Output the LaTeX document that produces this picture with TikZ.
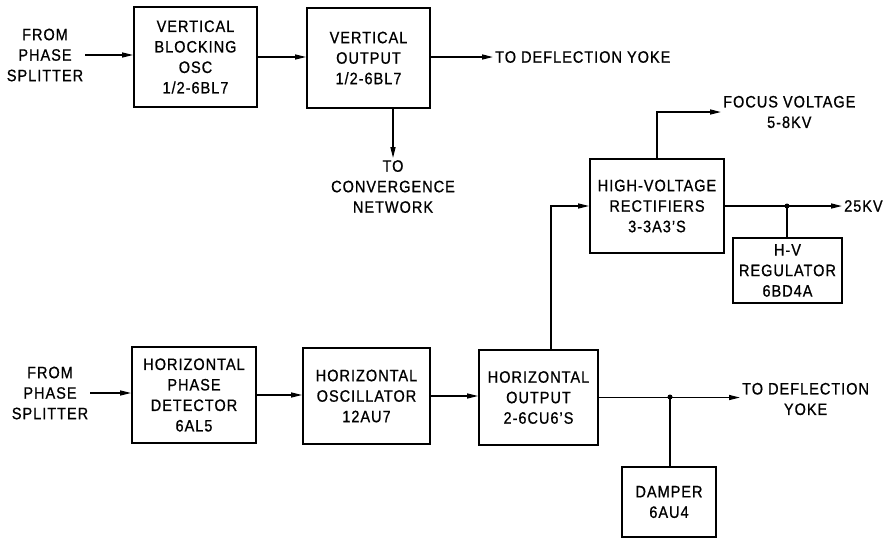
\documentclass[tikz,border=0pt]{standalone}
\usepackage{fontspec}
\setmainfont{Liberation Sans}[FakeStretch=0.88,LetterSpace=6,FakeBold=0.8]
\usetikzlibrary{arrows.meta}
\begin{document}
\begin{tikzpicture}[x=1pt,y=-1pt,
  font=\fontsize{16.5}{20.5}\selectfont,
  block/.style={draw,line width=1.9pt,align=center,inner sep=2pt},
  label/.style={align=center,inner sep=2pt},
  wire/.style={line width=1.3pt},
  feed/.style={wire,-{Triangle[length=11pt,width=5pt]}}]
\useasboundingbox (0,0) rectangle (894,539);
\node[label] (fromv) at (45,55) {FROM\\PHASE\\SPLITTER};
\node[block,minimum width=123pt,minimum height=100pt] (vbo) at (195.5,57) {VERTICAL\\BLOCKING\\OSC\\1/2-6BL7};
\node[block,minimum width=123pt,minimum height=100pt] (vout) at (368.5,58) {VERTICAL\\OUTPUT\\1/2-6BL7};
\node[label,anchor=west] (yokev) at (493,57) {TO DEFLECTION YOKE};
\node[label,anchor=north] (conv) at (393,158) {TO\\CONVERGENCE\\NETWORK};
\node[block,minimum width=134pt,minimum height=94pt] (hvr) at (657,206) {HIGH-VOLTAGE\\RECTIFIERS\\3-3A3'S};
\node[label,anchor=west] (focus) at (721,112) {FOCUS VOLTAGE\\5-8KV};
\node[label,anchor=west] (kv25) at (842,206) {25KV};
\node[block,minimum width=109pt,minimum height=65pt] (reg) at (787.5,270.5) {H-V\\REGULATOR\\6BD4A};
\coordinate (j1) at (787,206);
\node[label] (fromh) at (50,393) {FROM\\PHASE\\SPLITTER};
\node[block,minimum width=124pt,minimum height=96pt] (hpd) at (194,395) {HORIZONTAL\\PHASE\\DETECTOR\\6AL5};
\node[block,minimum width=127pt,minimum height=96pt] (hosc) at (366.5,396) {HORIZONTAL\\OSCILLATOR\\12AU7};
\node[block,minimum width=119pt,minimum height=95pt] (hout) at (538.5,397.5) {HORIZONTAL\\OUTPUT\\2-6CU6'S};
\node[label,anchor=west] (yokeh) at (740,399) {TO DEFLECTION\\YOKE};
\coordinate (j2) at (670,397);
\node[block,minimum width=94pt,minimum height=70pt] (damp) at (669,502) {DAMPER\\6AU4};
\draw[feed] (fromv.east) -- (vbo.west |- fromv.east);
\draw[feed] (vbo.east) -- (vout.west |- vbo.east);
\draw[feed] (vout.east |- yokev.west) -- (yokev.west);
\draw[feed] (vout.south -| conv.north) -- (conv.north);
\draw[feed] (hvr.north) |- (focus.west);
\draw[feed] (hvr.east) -- (kv25.west);
\draw[wire] (j1) -- (reg.north -| j1);
\fill (j1) circle (2.5pt);
\draw[feed] (fromh.east) -- (hpd.west |- fromh.east);
\draw[feed] (hpd.east) -- (hosc.west |- hpd.east);
\draw[feed] (hosc.east) -- (hout.west |- hosc.east);
\draw[feed] ([xshift=12.5pt]hout.north) |- (hvr.west);
\draw[feed] (hout.east) -- (yokeh.west |- hout.east);
\draw[wire] (j2) -- (damp.north -| j2);
\fill (j2) circle (2.5pt);
\end{tikzpicture}
\end{document}
